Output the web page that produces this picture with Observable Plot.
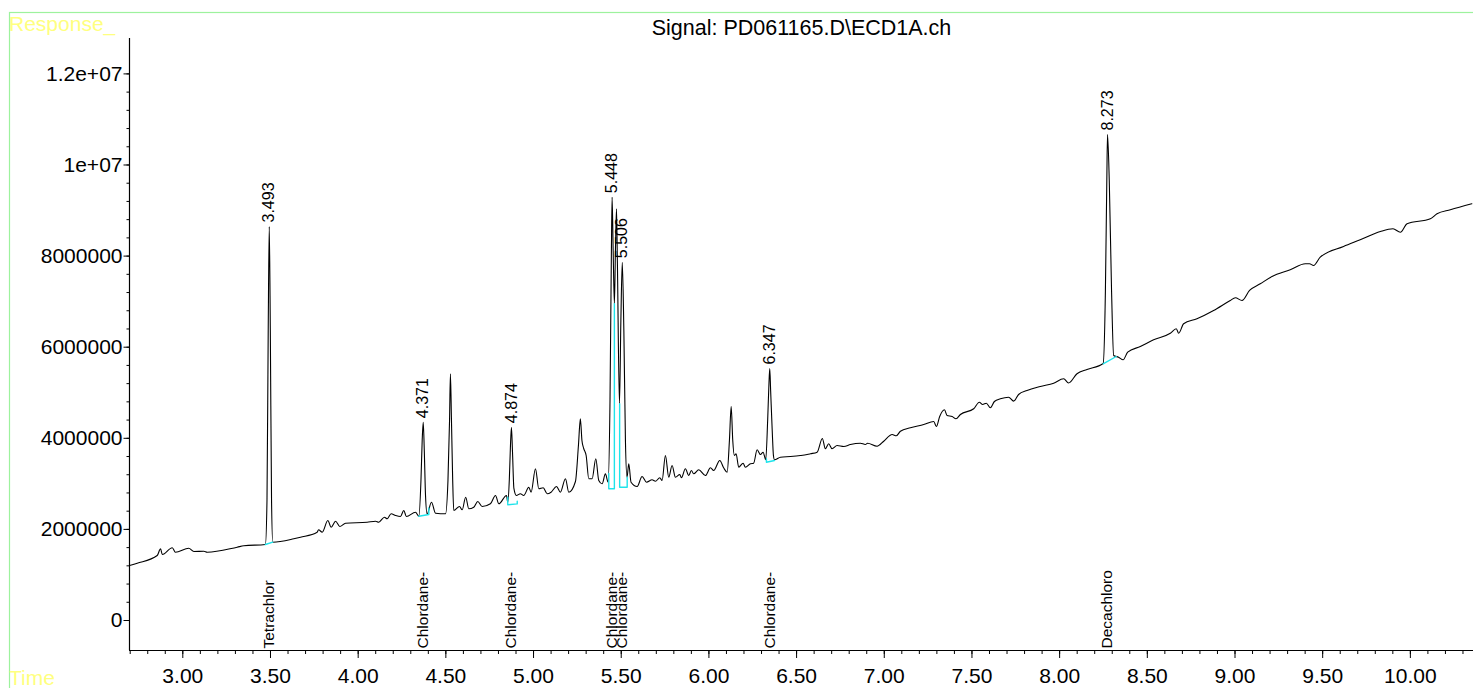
<!DOCTYPE html>
<html>
<head>
<meta charset="utf-8">
<script src="https://cdn.jsdelivr.net/npm/d3@7"></script>
<script src="https://cdn.jsdelivr.net/npm/@observablehq/plot@0.6"></script>
<style>
  html, body { margin: 0; padding: 0; background: white; }
  #chart svg { display: block; }
</style>
</head>
<body>
<div id="chart"></div>
<script>
// ---- data ----
const titleText = "Signal: PD061165.D\\ECD1A.ch";
const yAxisTitle = "Response_";
const xAxisTitle = "Time";

const traceTime = [2.696,2.740,2.854,2.873,2.883,2.940,2.958,3.034,3.063,3.120,3.139,3.310,3.348,3.471,3.480,3.487,3.493,3.499,3.506,3.513,3.633,3.671,3.766,3.774,3.795,3.827,3.846,3.871,3.895,3.928,4.051,4.099,4.117,4.150,4.165,4.188,4.213,4.241,4.260,4.275,4.327,4.346,4.358,4.365,4.371,4.377,4.384,4.393,4.418,4.441,4.498,4.512,4.521,4.526,4.532,4.539,4.545,4.578,4.593,4.613,4.631,4.659,4.682,4.707,4.754,4.783,4.802,4.846,4.853,4.862,4.868,4.874,4.880,4.888,4.902,4.925,4.944,4.973,4.986,5.011,5.030,5.055,5.078,5.100,5.131,5.153,5.182,5.201,5.239,5.256,5.267,5.276,5.286,5.300,5.315,5.334,5.355,5.372,5.391,5.410,5.425,5.436,5.444,5.448,5.454,5.461,5.467,5.473,5.478,5.490,5.498,5.506,5.515,5.524,5.533,5.543,5.556,5.591,5.619,5.644,5.676,5.695,5.720,5.733,5.752,5.771,5.790,5.809,5.834,5.843,5.866,5.885,5.900,5.913,5.942,5.980,6.009,6.027,6.062,6.084,6.104,6.117,6.127,6.136,6.145,6.155,6.170,6.195,6.208,6.237,6.255,6.275,6.294,6.309,6.324,6.335,6.342,6.347,6.352,6.361,6.368,6.374,6.408,6.465,6.522,6.560,6.579,6.617,6.647,6.664,6.683,6.702,6.731,6.769,6.807,6.864,6.892,6.905,6.959,6.997,7.045,7.069,7.092,7.149,7.225,7.282,7.297,7.316,7.343,7.358,7.387,7.409,7.434,7.510,7.542,7.561,7.582,7.605,7.628,7.662,7.709,7.738,7.766,7.814,7.890,7.966,8.023,8.051,8.099,8.156,8.248,8.261,8.269,8.273,8.283,8.296,8.308,8.336,8.362,8.388,8.460,8.536,8.631,8.665,8.679,8.707,8.783,8.878,8.973,9.002,9.040,9.083,9.144,9.211,9.315,9.401,9.425,9.448,9.486,9.619,9.714,9.829,9.901,9.943,9.981,10.114,10.152,10.228,10.351];

// response in thousands of counts
const traceResponseK = [1207,1258,1427,1574,1449,1596,1499,1587,1515,1521,1499,1609,1640,1669,2634,6367,8650,6367,2634,1719,1794,1829,1939,1991,1939,2195,2048,2180,2064,2136,2158,2180,2158,2268,2233,2342,2305,2283,2415,2283,2378,2290,3074,3952,4353,3732,2744,2342,2597,2356,2342,3074,4391,5416,4391,3074,2415,2503,2430,2707,2452,2487,2613,2503,2562,2744,2562,2744,2597,3100,3800,4244,3700,2900,2744,2782,2744,2926,2817,3330,2891,2913,2782,2817,2942,2817,3111,2817,3052,3842,4428,3952,3776,3622,3111,3111,3550,3074,3001,3221,3036,4830,8123,9293,8123,6953,8123,9038,7903,4757,6586,7866,6367,3952,3146,3440,3036,2942,3161,3036,3089,3058,3133,3074,3622,3146,3403,3146,3205,3133,3330,3183,3293,3221,3308,3183,3352,3293,3513,3352,3256,3952,4698,3952,3622,3660,3366,3453,3366,3440,3453,3748,3644,3695,3528,4391,5159,5532,5049,4171,3622,3528,3585,3600,3622,3644,3660,3695,3996,3770,3879,3770,3842,3820,3864,3892,3864,3892,3827,3936,4083,4055,4156,4231,4303,4369,4259,4479,4626,4501,4479,4428,4523,4648,4793,4742,4771,4670,4808,4867,4902,4815,4962,5049,5137,5210,5306,5214,5416,5510,5642,7245,9660,10670,9660,7245,5818,5780,5723,5890,6015,6162,6307,6404,6307,6514,6624,6806,7025,7085,7025,7245,7392,7552,7699,7831,7831,7794,7976,8211,8358,8540,8599,8525,8709,8819,8929,9017,9148];

// integrated peaks
const peakTimes = [3.493, 4.371, 4.874, 5.448, 5.506, 6.347, 8.273];
const peakHeightsK = [8650, 4353, 4244, 9293, 7866, 5532, 10670];
const peakNames = ["Tetrachlor", "Chlordane-", "Chlordane-", "Chlordane-", "Chlordane-", "Chlordane-", "Decachloro"];

// integration baselines (cyan)
const baselinePeak = ["3.493","3.493","4.371","4.371","4.371","4.874","4.874","4.874","4.874","5.448","5.448","5.448","5.448","5.506","5.506","5.506","5.506","6.347","6.347","6.347","8.273","8.273"];
const baselineTime = [3.471,3.513,4.346,4.403,4.403,4.853,4.853,4.907,4.907,5.429,5.429,5.461,5.461,5.491,5.491,5.534,5.534,6.328,6.328,6.374,8.248,8.323];
const baselineResponseK = [1669,1719,2290,2327,2470,2707,2540,2560,2620,3227,2891,2891,6953,4757,2926,2926,3146,3550,3475,3513,5636,5796];

// axes
const xDomain = [2.696, 10.36];
const yDomain = [-658600, 12777000];
const xMajorTicks = [3, 3.5, 4, 4.5, 5, 5.5, 6, 6.5, 7, 7.5, 8, 8.5, 9, 9.5, 10];
const xTickLabels = ["3.00","3.50","4.00","4.50","5.00","5.50","6.00","6.50","7.00","7.50","8.00","8.50","9.00","9.50","10.00"];
const xMinorTicks = d3.range(27, 104).map(v => v / 10);
const yMajorTicks = [0, 2000000, 4000000, 6000000, 8000000, 10000000, 12000000];
const yTickLabels = ["0", "2000000", "4000000", "6000000", "8000000", "1e+07", "1.2e+07"];
const yMinorTicks = d3.range(0, 31).map(v => v * 400000);

// ---- build ----
const trace = traceTime.map((t, i) => ({t, r: traceResponseK[i] * 1000}));
const peaks = peakTimes.map((t, i) => ({t, r: peakHeightsK[i] * 1000, name: peakNames[i]}));
const baselines = baselineTime.map((t, i) => ({t, r: baselineResponseK[i] * 1000, peak: baselinePeak[i]}));
const xLab = new Map(xMajorTicks.map((v, i) => [v, xTickLabels[i]]));
const yLab = new Map(yMajorTicks.map((v, i) => [v, yTickLabels[i]]));

const FONT = "'Liberation Sans', Arial, Helvetica, sans-serif";

const svg = Plot.plot({
  width: 1473,
  height: 688,
  marginLeft: 129,
  marginRight: 0,
  marginTop: 38,
  marginBottom: 38,
  style: {fontFamily: FONT, fontSize: "21px", background: "white", color: "black", overflow: "visible"},
  x: {domain: xDomain, axis: null},
  y: {domain: yDomain, axis: null},
  marks: [
    Plot.axisX({ticks: xMinorTicks, tickSize: 4, tickFormat: () => "", label: null}),
    Plot.axisX({ticks: xMajorTicks, tickSize: 8, tickPadding: 10, tickFormat: d => xLab.get(d), label: null, fontSize: 21}),
    Plot.axisY({ticks: yMinorTicks, tickSize: 2.5, tickFormat: () => "", label: null}),
    Plot.axisY({ticks: yMajorTicks, tickSize: 5.5, tickPadding: 1.5, tickFormat: d => yLab.get(d), label: null, fontSize: 21}),
    Plot.ruleX([xDomain[0]], {stroke: "black", strokeWidth: 1.2}),
    Plot.ruleY([yDomain[0]], {stroke: "black", strokeWidth: 1.2}),
    Plot.line(trace, {x: "t", y: "r", stroke: "black", strokeWidth: 1.1, curve: "monotone-x"}),
    Plot.line(baselines, {x: "t", y: "r", z: "peak", stroke: "#1ee3ea", strokeWidth: 1.4}),
    Plot.text(peaks, {x: "t", y: "r", text: d => d.t.toFixed(3), rotate: -90, textAnchor: "start", lineAnchor: "middle", dy: -4, fontSize: 16, fill: "black"}),
    Plot.text(peaks, {x: "t", frameAnchor: "bottom", text: "name", rotate: -90, textAnchor: "start", lineAnchor: "middle", dy: -2, fontSize: 15.5, fill: "black"}),
    Plot.text([titleText], {frameAnchor: "top", text: d => d, lineAnchor: "bottom", dy: -4, fontSize: 21.5, fill: "black"})
  ]
});

const s = d3.select(svg);
s.insert("rect", ":first-child")
  .attr("x", 9.5).attr("y", 12.5).attr("width", 1500).attr("height", 700)
  .attr("fill", "none").attr("stroke", "#9df29d").attr("stroke-width", 1.2);
s.append("text").text(yAxisTitle)
  .attr("x", 9).attr("y", 31).attr("fill", "#ffff80").attr("text-anchor", "start")
  .style("font-family", FONT).style("font-size", "21px");
s.append("text").text(xAxisTitle)
  .attr("x", 9).attr("y", 685).attr("fill", "#ffff80").attr("text-anchor", "start")
  .style("font-family", FONT).style("font-size", "21px");

document.getElementById("chart").appendChild(svg);
</script>
</body>
</html>
